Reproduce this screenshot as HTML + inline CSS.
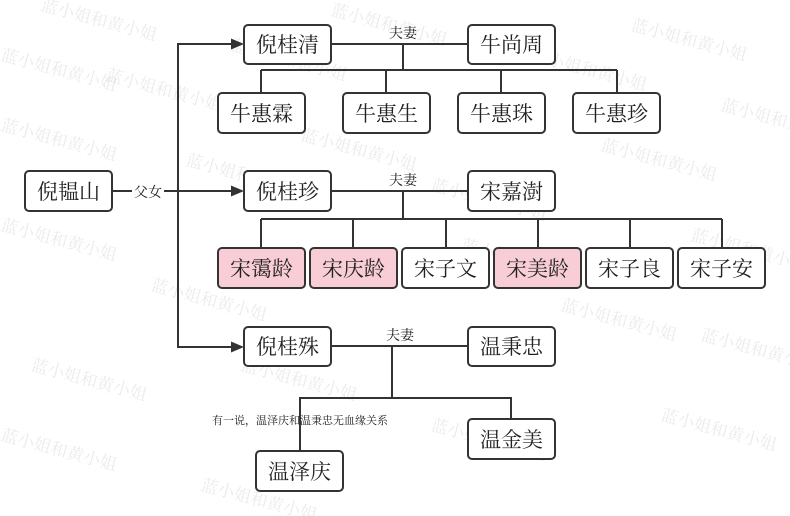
<!DOCTYPE html>
<html><head><meta charset="utf-8"><style>
html,body{margin:0;padding:0;background:#fff}
svg{display:block}
.n{fill:#fff;stroke:#333;stroke-width:2}
.p{fill:#f8cdd5;stroke:#333;stroke-width:2}
.t{font-family:"Noto Serif CJK SC","Liberation Serif",serif;font-size:21px;fill:#222;text-anchor:middle}
.s{font-family:"Noto Serif CJK SC","Liberation Serif",serif;font-size:14px;fill:#222;text-anchor:middle}
.w{font-family:"Noto Serif CJK SC","Liberation Serif",serif;font-size:17px;fill:#000;opacity:0.08}
line,polyline{stroke:#333;stroke-width:2;fill:none}
</style></head><body>
<svg width="790" height="516" viewBox="0 0 790 516">
<g class="wm">
<text class="w" x="40" y="10" transform="rotate(15 40 10)">蓝小姐和黄小姐</text>
<text class="w" x="0" y="60" transform="rotate(15 0 60)">蓝小姐和黄小姐</text>
<text class="w" x="105" y="80" transform="rotate(15 105 80)">蓝小姐和黄小姐</text>
<text class="w" x="0" y="130" transform="rotate(15 0 130)">蓝小姐和黄小姐</text>
<text class="w" x="185" y="165" transform="rotate(15 185 165)">蓝小姐和黄小姐</text>
<text class="w" x="300" y="140" transform="rotate(15 300 140)">蓝小姐和黄小姐</text>
<text class="w" x="330" y="15" transform="rotate(15 330 15)">蓝小姐和黄小姐</text>
<text class="w" x="230" y="50" transform="rotate(15 230 50)">蓝小姐和黄小姐</text>
<text class="w" x="530" y="60" transform="rotate(15 530 60)">蓝小姐和黄小姐</text>
<text class="w" x="630" y="30" transform="rotate(15 630 30)">蓝小姐和黄小姐</text>
<text class="w" x="720" y="110" transform="rotate(15 720 110)">蓝小姐和黄小姐</text>
<text class="w" x="600" y="150" transform="rotate(15 600 150)">蓝小姐和黄小姐</text>
<text class="w" x="430" y="190" transform="rotate(15 430 190)">蓝小姐和黄小姐</text>
<text class="w" x="0" y="230" transform="rotate(15 0 230)">蓝小姐和黄小姐</text>
<text class="w" x="150" y="290" transform="rotate(15 150 290)">蓝小姐和黄小姐</text>
<text class="w" x="690" y="240" transform="rotate(15 690 240)">蓝小姐和黄小姐</text>
<text class="w" x="460" y="250" transform="rotate(15 460 250)">蓝小姐和黄小姐</text>
<text class="w" x="560" y="310" transform="rotate(15 560 310)">蓝小姐和黄小姐</text>
<text class="w" x="30" y="370" transform="rotate(15 30 370)">蓝小姐和黄小姐</text>
<text class="w" x="240" y="370" transform="rotate(15 240 370)">蓝小姐和黄小姐</text>
<text class="w" x="700" y="340" transform="rotate(15 700 340)">蓝小姐和黄小姐</text>
<text class="w" x="0" y="440" transform="rotate(15 0 440)">蓝小姐和黄小姐</text>
<text class="w" x="430" y="430" transform="rotate(15 430 430)">蓝小姐和黄小姐</text>
<text class="w" x="200" y="490" transform="rotate(15 200 490)">蓝小姐和黄小姐</text>
<text class="w" x="660" y="420" transform="rotate(15 660 420)">蓝小姐和黄小姐</text>
</g>

<line x1="112" y1="191" x2="236" y2="191"/>
<polyline points="236,44 178,44 178,347 236,347"/>
<polygon points="244,44 231,38.5 231,49.5" fill="#333"/>
<polygon points="244,191 231,185.5 231,196.5" fill="#333"/>
<polygon points="244,347 231,341.5 231,352.5" fill="#333"/>
<rect x="132" y="182" width="32" height="18" fill="#fff"/>
<text class="s" x="148" y="197">父女</text>

<line x1="331" y1="44" x2="468" y2="44"/>
<line x1="403" y1="44" x2="403" y2="70"/>
<line x1="261" y1="70" x2="617" y2="70"/>
<line x1="261" y1="70" x2="261" y2="93"/>
<line x1="386" y1="70" x2="386" y2="93"/>
<line x1="501" y1="70" x2="501" y2="93"/>
<line x1="617" y1="70" x2="617" y2="93"/>
<text class="s" x="403" y="38">夫妻</text>

<line x1="331" y1="191" x2="468" y2="191"/>
<line x1="403" y1="191" x2="403" y2="219"/>
<line x1="261" y1="219" x2="722" y2="219"/>
<line x1="261" y1="219" x2="261" y2="248"/>
<line x1="353" y1="219" x2="353" y2="248"/>
<line x1="446" y1="219" x2="446" y2="248"/>
<line x1="538" y1="219" x2="538" y2="248"/>
<line x1="630" y1="219" x2="630" y2="248"/>
<line x1="722" y1="219" x2="722" y2="248"/>
<text class="s" x="403" y="185">夫妻</text>

<line x1="331" y1="346" x2="468" y2="346"/>
<line x1="392" y1="346" x2="392" y2="398"/>
<polyline points="300,451 300,398 511,398 511,419"/>
<text class="s" x="400" y="340">夫妻</text>
<text x="300" y="424" style="font-family:'Noto Serif CJK SC','Liberation Serif',serif;font-size:11px;fill:#222;text-anchor:middle">有一说，温泽庆和温秉忠无血缘关系</text>

<rect class="n" x="25" y="171" width="87" height="40" rx="4"/><text class="t" x="68.5" y="199">倪韫山</text>
<rect class="n" x="244" y="25" width="87" height="39" rx="4"/><text class="t" x="287.5" y="52">倪桂清</text>
<rect class="n" x="468" y="25" width="87" height="39" rx="4"/><text class="t" x="511.5" y="52">牛尚周</text>
<rect class="n" x="218" y="93" width="87" height="40" rx="4"/><text class="t" x="261.5" y="121">牛惠霖</text>
<rect class="n" x="343" y="93" width="87" height="40" rx="4"/><text class="t" x="386.5" y="121">牛惠生</text>
<rect class="n" x="458" y="93" width="87" height="40" rx="4"/><text class="t" x="501.5" y="121">牛惠珠</text>
<rect class="n" x="573" y="93" width="87" height="40" rx="4"/><text class="t" x="616.5" y="121">牛惠珍</text>

<rect class="n" x="244" y="171" width="87" height="40" rx="4"/><text class="t" x="287.5" y="199">倪桂珍</text>
<rect class="n" x="468" y="171" width="87" height="40" rx="4"/><text class="t" x="511.5" y="199">宋嘉澍</text>
<rect class="p" x="218" y="248" width="87" height="40" rx="4"/><text class="t" x="261.5" y="276">宋霭龄</text>
<rect class="p" x="310" y="248" width="87" height="40" rx="4"/><text class="t" x="353.5" y="276">宋庆龄</text>
<rect class="n" x="402" y="248" width="87" height="40" rx="4"/><text class="t" x="445.5" y="276">宋子文</text>
<rect class="p" x="494" y="248" width="87" height="40" rx="4"/><text class="t" x="537.5" y="276">宋美龄</text>
<rect class="n" x="586" y="248" width="87" height="40" rx="4"/><text class="t" x="629.5" y="276">宋子良</text>
<rect class="n" x="678" y="248" width="87" height="40" rx="4"/><text class="t" x="721.5" y="276">宋子安</text>

<rect class="n" x="244" y="327" width="87" height="39" rx="4"/><text class="t" x="287.5" y="354">倪桂殊</text>
<rect class="n" x="468" y="327" width="87" height="39" rx="4"/><text class="t" x="511.5" y="354">温秉忠</text>
<rect class="n" x="468" y="419" width="87" height="40" rx="4"/><text class="t" x="511.5" y="447">温金美</text>
<rect class="n" x="256" y="451" width="87" height="40" rx="4"/><text class="t" x="299.5" y="479">温泽庆</text>
</svg>
</body></html>
